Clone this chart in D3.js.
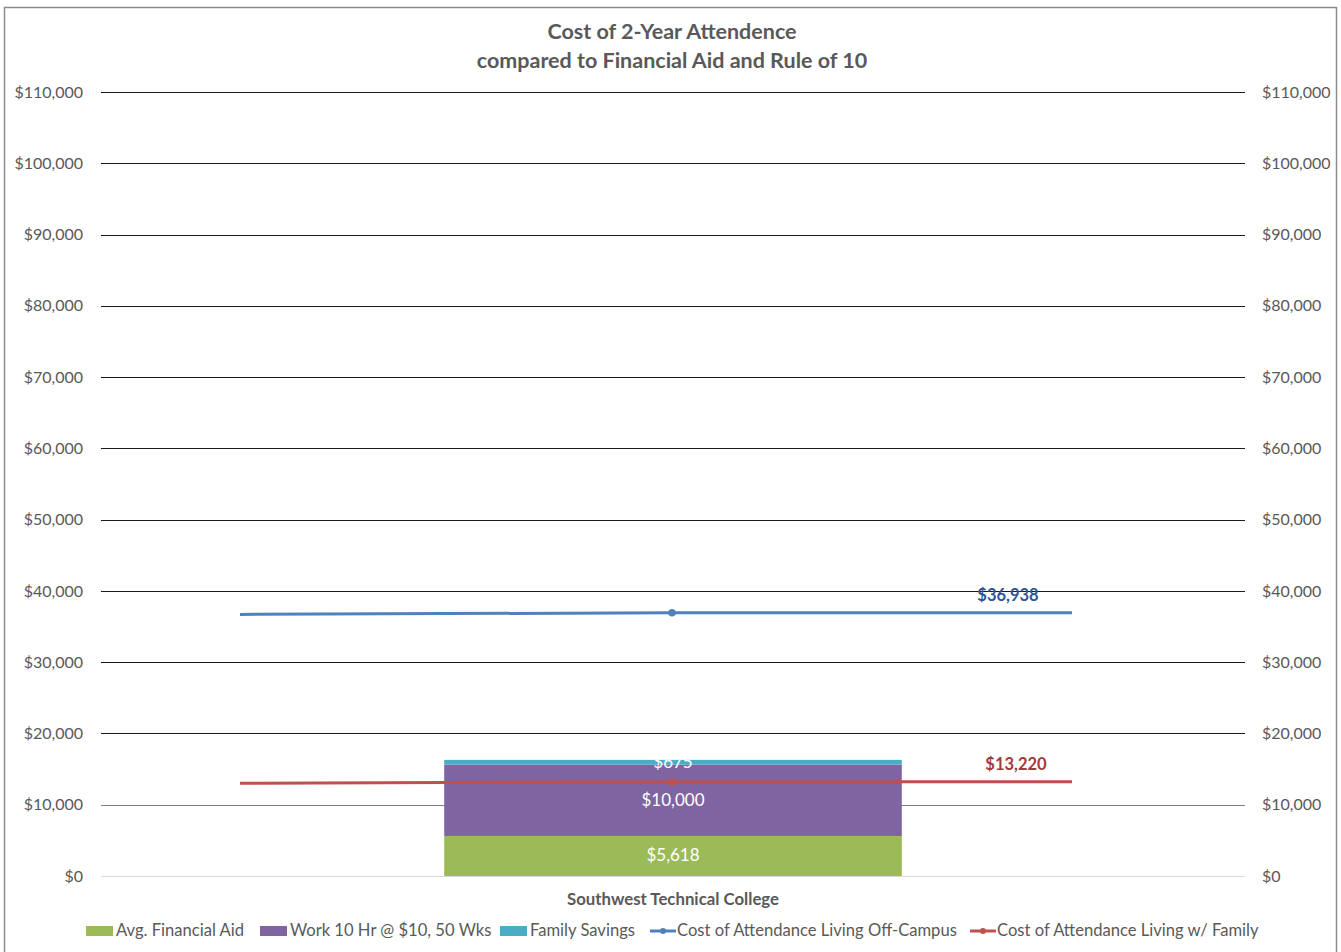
<!DOCTYPE html>
<html><head><meta charset="utf-8">
<script src="https://cdn.jsdelivr.net/npm/d3@7"></script>
<style>body{margin:0;background:#fff;}svg{display:block;font-family:Lato,"Open Sans",sans-serif;}</style>
</head><body><svg id="c" width="1341" height="952"></svg>
<script>
const categories = ["Southwest Technical College"];
const barSeries = ["Avg. Financial Aid", "Work 10 Hr @ $10, 50 Wks", "Family Savings"];
const financialAid = [5618];
const work = [10000];
const familySavings = [675];
const lineSeries = ["Cost of Attendance Living Off-Campus", "Cost of Attendance Living w/ Family"];
const offCampus = [36700, 36938, 36938];
const withFamily = [13000, 13220, 13220];
const yTicks = [0,10000,20000,30000,40000,50000,60000,70000,80000,90000,100000,110000];

const svg = d3.select("#c");
const L = 101, R = 1245, T = 92, B = 876;
const barColors = ["#9bbb59", "#8064a2", "#4bacc6"];
const lineColors = ["#4f81bd", "#c0504d"];
const labelColors = ["#2f5597", "#a33a3a"];
const labelOffsets = [-64, -56];

svg.append("rect").attr("x",4.5).attr("y",7.5).attr("width",1332).attr("height",970)
  .attr("fill","#fff").attr("stroke","#8c8c8c").attr("stroke-width",1.5);

const y = d3.scaleLinear().domain([0,110000]).range([B,T]);
const x = d3.scaleBand().domain(categories).range([L,R]).paddingInner(0.6).paddingOuter(0.3);
const xl = d3.scaleLinear().domain([0,1,2]).range([240,672,1072]);
const fmt = v => "$" + d3.format(",")(v);

// gridlines
const gridColor = v => v === 0 ? "#d9d9d9" : (v === 10000 ? "#808080" : "#1a1a1a");
svg.append("g").selectAll("line").data(yTicks).join("line")
  .attr("x1",L).attr("x2",R).attr("y1",d=>Math.round(y(d))+0.5).attr("y2",d=>Math.round(y(d))+0.5)
  .attr("stroke",gridColor).attr("stroke-width",1);

// axes labels
const leftAxis = d3.axisLeft(y).tickValues(yTicks).tickFormat(fmt).tickSize(0).tickPadding(18);
const gl = svg.append("g").attr("transform",`translate(${L},0)`).call(leftAxis);
const rightAxis = d3.axisRight(y).tickValues(yTicks).tickFormat(fmt).tickSize(0).tickPadding(17);
const gr = svg.append("g").attr("transform",`translate(${R},0)`).call(rightAxis);
[gl,gr].forEach(g=>{ g.select(".domain").remove();
  g.selectAll("text").attr("fill","#595959").style("font-size","16px").style("font-family","Lato,sans-serif"); });

// stacked bars
const rows = categories.map((c,i)=>({cat:c, s0:financialAid[i], s1:work[i], s2:familySavings[i]}));
const stack = d3.stack().keys(["s0","s1","s2"])(rows);
stack.forEach((layer,k)=>{
  const g = svg.append("g");
  g.selectAll("rect").data(layer).join("rect")
    .attr("x",d=>x(d.data.cat)).attr("width",x.bandwidth())
    .attr("y",d=>y(d[1])).attr("height",d=>y(d[0])-y(d[1])).attr("fill",barColors[k]);
});
stack.forEach((layer,k)=>{
  svg.append("g").selectAll("text").data(layer).join("text")
    .attr("x",d=>x(d.data.cat)+x.bandwidth()/2).attr("y",d=>(y(d[0])+y(d[1]))/2+1)
    .attr("text-anchor","middle").attr("dominant-baseline","middle")
    .attr("fill","#fff").style("font-size","17px").text(d=>fmt(d[1]-d[0]));
});

// lines
[offCampus, withFamily].forEach((vals,k)=>{
  const line = d3.line().x((d,i)=>xl(i)).y(d=>y(d));
  svg.append("path").datum(vals).attr("d",line).attr("fill","none")
    .attr("stroke",lineColors[k]).attr("stroke-width",3);
  svg.append("circle").attr("cx",xl(1)).attr("cy",y(vals[1])).attr("r",3.8).attr("fill",lineColors[k]);
  svg.append("text").attr("x",xl(2)+labelOffsets[k]).attr("y",y(vals[2])-12)
    .attr("text-anchor","middle").attr("fill",labelColors[k])
    .style("font-size","16.5px").style("font-weight","bold").text(fmt(vals[1]));
});

// title
svg.append("text").attr("x",672).attr("y",39).attr("text-anchor","middle").attr("fill","#595959")
  .style("font-size","21.5px").style("font-weight","bold").text("Cost of 2-Year Attendence");
svg.append("text").attr("x",672).attr("y",68).attr("text-anchor","middle").attr("fill","#595959")
  .style("font-size","21.5px").style("font-weight","bold").text("compared to Financial Aid and Rule of 10");

// category label
svg.append("text").attr("x",x(categories[0])+x.bandwidth()/2).attr("y",905).attr("text-anchor","middle")
  .attr("fill","#595959").style("font-size","16.8px").style("font-weight","bold").text(categories[0]);

// legend
const legY = 931;
const legItems = [
  {name:barSeries[0], type:"bar", color:barColors[0], x:86},
  {name:barSeries[1], type:"bar", color:barColors[1], x:260},
  {name:barSeries[2], type:"bar", color:barColors[2], x:500},
  {name:lineSeries[0], type:"line", color:lineColors[0], x:650},
  {name:lineSeries[1], type:"line", color:lineColors[1], x:970}
];
const lg = svg.append("g");
legItems.forEach(it=>{
  if(it.type==="bar"){
    lg.append("rect").attr("x",it.x).attr("y",legY-5).attr("width",27).attr("height",10).attr("fill",it.color);
  } else {
    lg.append("line").attr("x1",it.x).attr("x2",it.x+26).attr("y1",legY).attr("y2",legY)
      .attr("stroke",it.color).attr("stroke-width",3);
    lg.append("circle").attr("cx",it.x+13).attr("cy",legY).attr("r",3).attr("fill",it.color);
  }
  lg.append("text").attr("x",it.x+(it.type==="bar"?30:27)).attr("y",legY+1).attr("dominant-baseline","middle")
    .attr("fill","#595959").style("font-size","16.6px").text(it.name);
});
</script></body></html>
